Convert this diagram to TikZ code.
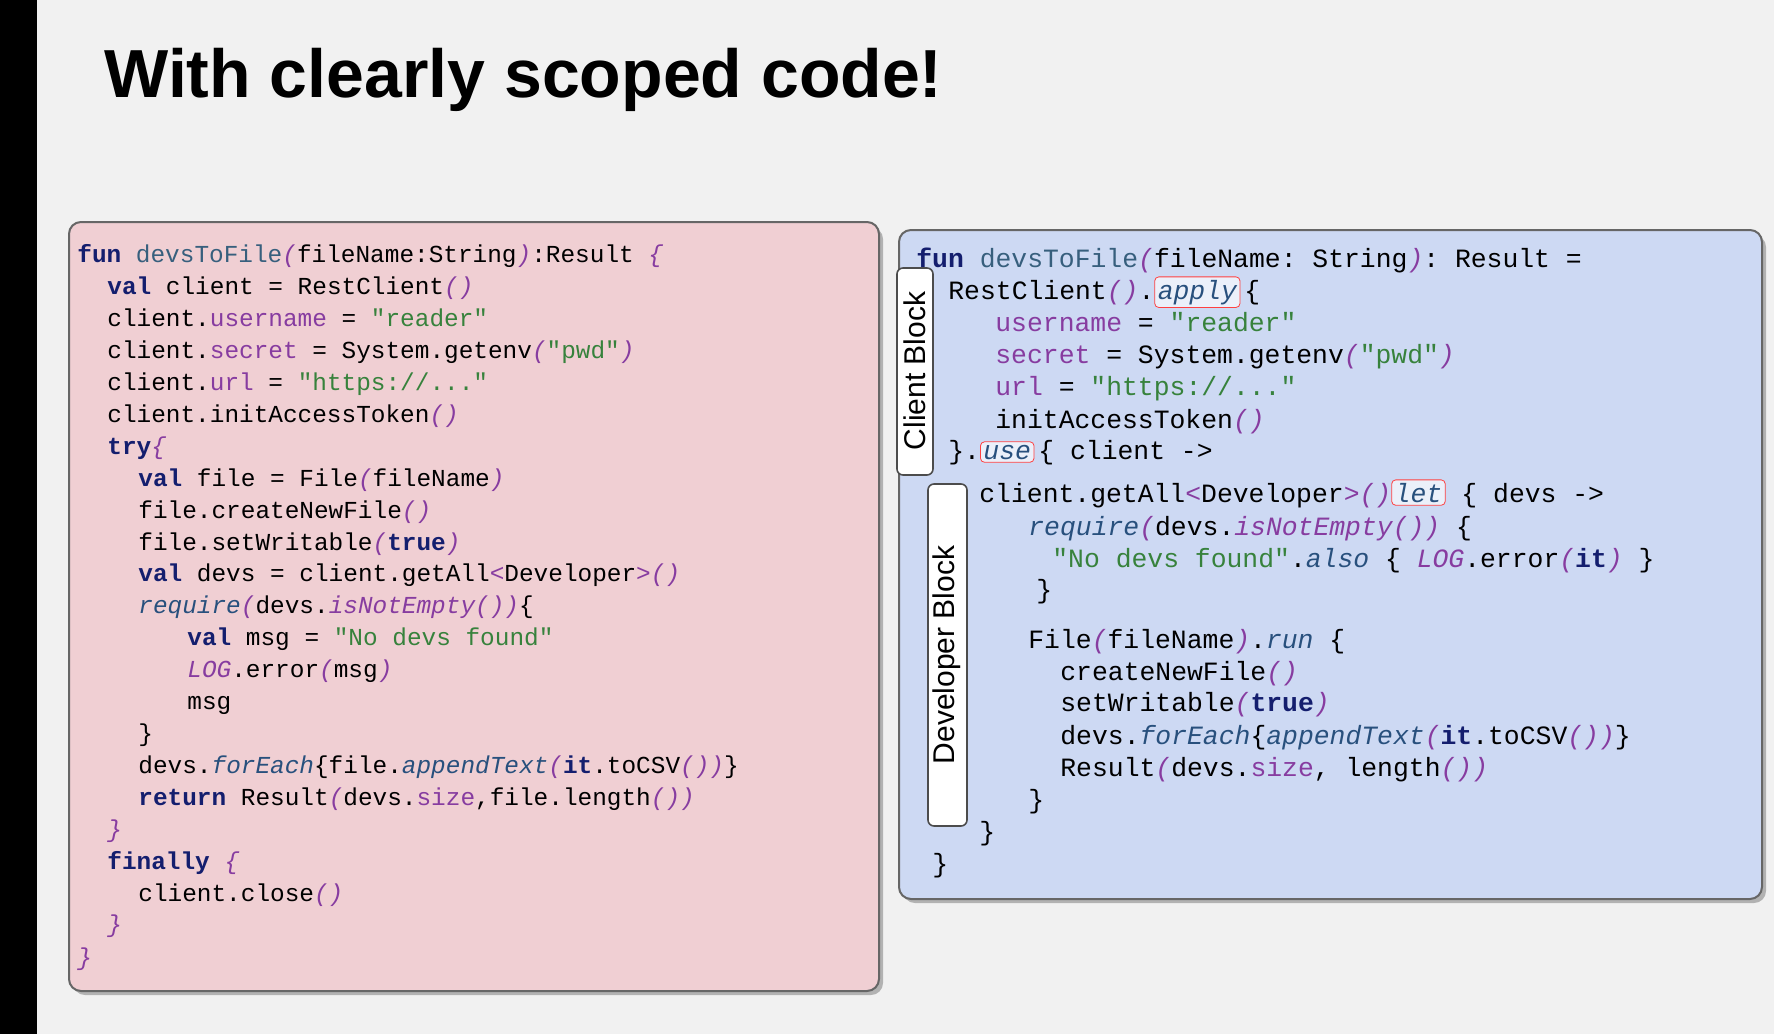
\documentclass[tikz,border=0pt]{standalone}
\usepackage{fontspec}
\setmainfont{Liberation Sans}
\setmonofont{Liberation Mono}
\usetikzlibrary{positioning}
\definecolor{slidebg}{RGB}{241,241,241}
\definecolor{leftbg}{RGB}{240,207,211}
\definecolor{rightbg}{RGB}{205,217,243}
\definecolor{kwcol}{RGB}{20,30,110}
\definecolor{fncol}{RGB}{55,95,125}
\definecolor{prcol}{RGB}{135,60,160}
\definecolor{stcol}{RGB}{55,130,60}
\definecolor{itcol}{RGB}{40,80,125}
\newcommand{\kw}[1]{\textcolor{kwcol}{\bfseries #1}}
\newcommand{\fnc}[1]{\textcolor{fncol}{#1}}
\newcommand{\prp}[1]{\textcolor{prcol}{#1}}
\newcommand{\str}[1]{\textcolor{stcol}{#1}}
\newcommand{\itc}[1]{\textcolor{itcol}{\itshape #1}}
\newcommand{\pa}[1]{\textcolor{prcol}{\itshape #1}}
\newcommand{\hl}[1]{\tikz[baseline=(h.base)]\node (h) [anchor=base, draw=red!75, fill=white!60!rightbg, rounded corners=2pt, inner sep=1.5pt] {#1};}
\tikzset{
  codeA/.style={anchor=base west, inner sep=0, font=\ttfamily\fontsize{12.2}{14}\selectfont},
  codeB/.style={anchor=base west, inner sep=0, font=\ttfamily\fontsize{13.2}{15}\selectfont},
  panel/.style={draw=black!60, line width=1pt, rounded corners=6pt},
  tab/.style={draw=black!70, fill=white, line width=0.8pt, rounded corners=3pt},
}
\begin{document}
\begin{tikzpicture}[x=0.5pt,y=-0.5pt]
  % slide
  \fill [slidebg] ( 0, 0 ) rectangle ( 1774, 1034 );
  \fill [black] ( 0, 0 ) rectangle ( 37, 1034 );
  \node (title) [anchor=base west, inner sep=0, font=\bfseries\fontsize{34}{40}\selectfont] at ( 104, 97 ) {With clearly scoped code!};

  % panels
  \fill [black!30, rounded corners=6pt] ( 73, 227 ) rectangle ( 883, 995 );
  \fill [black!30, rounded corners=6pt] ( 903, 235 ) rectangle ( 1766, 903 );
  \draw [panel, fill=leftbg] ( 69, 222 ) rectangle ( 879, 991 );
  \draw [panel, fill=rightbg] ( 899, 230 ) rectangle ( 1762, 899 );

  % left code
  \node [codeA] (a1) at ( 77, 262 ) {\kw{fun} \fnc{devsToFile}\pa{(}fileName:String\pa{)}:Result \pa{\{}};
  \node [codeA] (a2) at ( 107, 294 ) {\kw{val} client = RestClient\pa{()}};
  \node [codeA] (a3) at ( 107, 326 ) {client.\prp{username} = \str{"reader"}};
  \node [codeA] (a4) at ( 107, 358 ) {client.\prp{secret} = System.getenv\pa{(}\str{"pwd"}\pa{)}};
  \node [codeA] (a5) at ( 107, 390 ) {client.\prp{url} = \str{"https://..."}};
  \node [codeA] (a6) at ( 107, 422 ) {client.initAccessToken\pa{()}};
  \node [codeA] (a7) at ( 107, 454 ) {\kw{try}\pa{\{}};
  \node [codeA] (a8) at ( 138, 486 ) {\kw{val} file = File\pa{(}fileName\pa{)}};
  \node [codeA] (a9) at ( 138, 518 ) {file.createNewFile\pa{()}};
  \node [codeA] (a10) at ( 138, 550 ) {file.setWritable\pa{(}\kw{true}\pa{)}};
  \node [codeA] (a11) at ( 138, 581 ) {\kw{val} devs = client.getAll\prp{<}Developer\prp{>}\pa{()}};
  \node [codeA] (a12) at ( 138, 613 ) {\itc{require}\pa{(}devs.\prp{\itshape isNotEmpty}\pa{())}\{};
  \node [codeA] (a13) at ( 187, 645 ) {\kw{val} msg = \str{"No devs found"}};
  \node [codeA] (a14) at ( 187, 677 ) {\pa{LOG}.error\pa{(}msg\pa{)}};
  \node [codeA] (a15) at ( 187, 709 ) {msg};
  \node [codeA] (a16) at ( 138, 741 ) {\}};
  \node [codeA] (a17) at ( 138, 773 ) {devs.\itc{forEach}\{file.\itc{appendText}\pa{(}\kw{it}.toCSV\pa{())}\}};
  \node [codeA] (a18) at ( 138, 805 ) {\kw{return} Result\pa{(}devs.\prp{size},file.length\pa{())}};
  \node [codeA] (a19) at ( 107, 837 ) {\pa{\}}};
  \node [codeA] (a20) at ( 107, 869 ) {\kw{finally} \pa{\{}};
  \node [codeA] (a21) at ( 138, 901 ) {client.close\pa{()}};
  \node [codeA] (a22) at ( 107, 932 ) {\pa{\}}};
  \node [codeA] (a23) at ( 77, 965 ) {\pa{\}}};

  % right code
  \node [codeB] (b1) at ( 916, 267 ) {\kw{fun} \fnc{devsToFile}\pa{(}fileName: String\pa{)}: Result =};
  \node [codeB] (b2) at ( 948, 299 ) {RestClient\pa{()}.\hl{\itc{apply}}\kern2pt\{};
  \node [codeB] (b3) at ( 995, 331 ) {\prp{username} = \str{"reader"}};
  \node [codeB] (b4) at ( 995, 363 ) {\prp{secret} = System.getenv\pa{(}\str{"pwd"}\pa{)}};
  \node [codeB] (b5) at ( 995, 395 ) {\prp{url} = \str{"https://..."}};
  \node [codeB] (b6) at ( 995, 428 ) {initAccessToken\pa{()}};
  \node [codeB] (b7) at ( 948, 459 ) {\}.\hl{\itc{use}}\kern2pt\{ client ->};
  \node [codeB] (b8) at ( 979, 502 ) {client.getAll\prp{<}Developer\prp{>}\pa{()}\hl{\itc{let}} \{ devs ->};
  \node [codeB] (b9) at ( 1028, 535 ) {\itc{require}\pa{(}devs.\prp{\itshape isNotEmpty}\pa{())} \{};
  \node [codeB] (b10) at ( 1052, 567 ) {\str{"No devs found"}.\itc{also} \{ \pa{LOG}.error\pa{(}\kw{it}\pa{)} \}};
  \node [codeB] (b11) at ( 1036, 598 ) {\}};
  \node [codeB] (b12) at ( 1028, 648 ) {File\pa{(}fileName\pa{)}.\itc{run} \{};
  \node [codeB] (b13) at ( 1060, 680 ) {createNewFile\pa{()}};
  \node [codeB] (b14) at ( 1060, 711 ) {setWritable\pa{(}\kw{true}\pa{)}};
  \node [codeB] (b15) at ( 1060, 744 ) {devs.\itc{forEach}\{\itc{appendText}\pa{(}\kw{it}.toCSV\pa{())}\}};
  \node [codeB] (b16) at ( 1060, 776 ) {Result\pa{(}devs.\prp{size}, length\pa{())}};
  \node [codeB] (b17) at ( 1028, 808 ) {\}};
  \node [codeB] (b18) at ( 979, 840 ) {\}};
  \node [codeB] (b19) at ( 932, 872 ) {\}};

  % block tabs
  \draw [tab] ( 897, 268 ) rectangle ( 933, 475 );
  \node (client) [rotate=90, font=\fontsize{15}{18}\selectfont] at ( 915, 371 ) {Client Block};
  \draw [tab] ( 928, 484 ) rectangle ( 967, 826 );
  \node (developer) [rotate=90, font=\fontsize{15}{18}\selectfont] at ( 947, 655 ) {Developer Block};
\end{tikzpicture}
\end{document}
